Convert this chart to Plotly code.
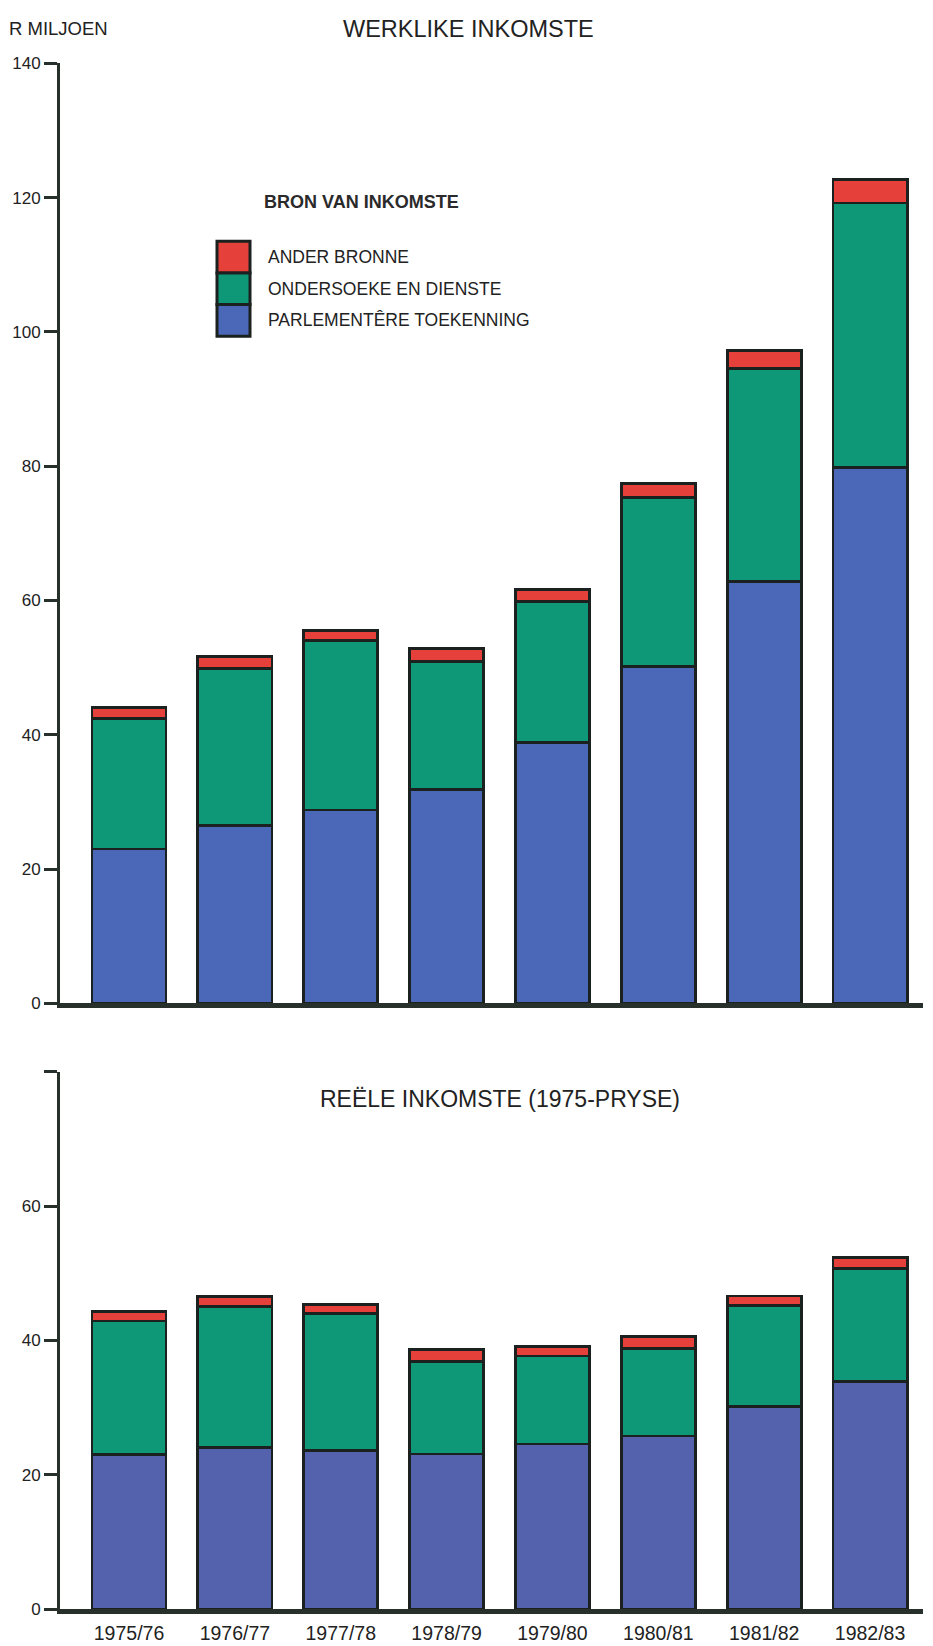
import plotly.graph_objects as go

# Financial years
years = ["1975/76", "1976/77", "1977/78", "1978/79", "1979/80", "1980/81", "1981/82", "1982/83"]

# Actual income (R million), by source
nominal_parlement = [23.0, 26.5, 28.8, 31.8, 38.9, 50.2, 62.8, 79.8]
nominal_ondersoeke = [19.4, 23.4, 25.2, 19.1, 20.9, 25.2, 31.7, 39.4]
nominal_ander = [1.7, 1.8, 1.5, 2.0, 1.9, 2.0, 2.7, 3.5]

# Real income at 1975 prices (R million), by source
real_parlement = [23.0, 24.1, 23.6, 23.1, 24.6, 25.8, 30.2, 33.9]
real_ondersoeke = [19.9, 21.0, 20.4, 13.8, 13.1, 13.0, 15.0, 16.8]
real_ander = [1.4, 1.4, 1.4, 1.7, 1.4, 1.8, 1.4, 1.6]

top_ticks = [0, 20, 40, 60, 80, 100, 120, 140]
bottom_ticks = [0, 20, 40, 60, 80]
bottom_tick_text = ["0", "20", "40", "60", ""]

series_names = ["PARLEMENTÊRE TOEKENNING", "ONDERSOEKE EN DIENSTE", "ANDER BRONNE"]
BLUE = "#4b68b8"
BLUE_REAL = "#5461ad"
GREEN = "#0e9878"
RED = "#e6403a"
INK = "#1a211e"
AXIS = "#28302c"
FONT = "Liberation Sans, Arial, sans-serif"

W, H = 933, 1646
PLOT_LEFT, PLOT_RIGHT = 60, 923

fig = go.Figure()

def add_stack(values_list, palette, xa, ya):
    for name, vals, col in zip(series_names, values_list, palette):
        fig.add_trace(go.Bar(
            x=years, y=vals, name=name, xaxis=xa, yaxis=ya,
            width=0.70, showlegend=False,
            marker=dict(color=col, line=dict(color=INK, width=2.8)),
        ))

add_stack([nominal_parlement, nominal_ondersoeke, nominal_ander], [BLUE, GREEN, RED], "x", "y")
add_stack([real_parlement, real_ondersoeke, real_ander], [BLUE_REAL, GREEN, RED], "x2", "y2")

def fx(px):
    return px / W

def fy(px):
    return 1 - px / H

x_range = [-0.652, 7.5]
xaxis_common = dict(
    type="category", range=x_range, domain=[fx(PLOT_LEFT), fx(PLOT_RIGHT)],
    showline=True, linecolor=AXIS, linewidth=4.5,
    showgrid=False, zeroline=False, ticks="", fixedrange=True,
)
yaxis_common = dict(
    showline=True, linecolor=AXIS, linewidth=3, showgrid=False, zeroline=False,
    ticks="outside", ticklen=13, tickwidth=2.5, tickcolor=AXIS,
    tickfont=dict(family=FONT, size=17, color="#222"),
)

fig.update_layout(
    width=W, height=H,
    margin=dict(l=0, r=0, t=0, b=0),
    paper_bgcolor="white", plot_bgcolor="white",
    barmode="stack",
    showlegend=False,
    xaxis=dict(anchor="y", showticklabels=False, **xaxis_common),
    yaxis=dict(domain=[fy(1006), fy(55)], anchor="x", range=[0, 140],
               tickvals=top_ticks, **yaxis_common),
    xaxis2=dict(anchor="y2", showticklabels=True, ticklabelstandoff=3,
                tickfont=dict(family=FONT, size=19.5, color="#222"), **xaxis_common),
    yaxis2=dict(domain=[fy(1619), fy(1075)], anchor="x2", range=[0, 80],
                tickvals=bottom_ticks, ticktext=bottom_tick_text, **yaxis_common),
)

annotations = [
    dict(text="R MILJOEN", x=fx(7), y=fy(20), xanchor="left", yanchor="middle",
         font=dict(family=FONT, size=18.5, color="#222")),
    dict(text="WERKLIKE INKOMSTE", x=fx(468), y=fy(20), xanchor="center", yanchor="middle",
         font=dict(family=FONT, size=23.5, color="#222")),
    dict(text="REËLE INKOMSTE (1975-PRYSE)", x=fx(500), y=fy(1103), xanchor="center",
         yanchor="middle", font=dict(family=FONT, size=23, color="#222")),
    dict(text="<b>BRON VAN INKOMSTE</b>", x=fx(262), y=fy(195), xanchor="left",
         yanchor="middle", font=dict(family=FONT, size=18, color="#2a2a2a")),
]

# Legend: stacked swatches with labels
legend_rows = [("ANDER BRONNE", RED), ("ONDERSOEKE EN DIENSTE", GREEN),
               ("PARLEMENTÊRE TOEKENNING", BLUE)]
shapes = []
sw_top, sw_h = 235, 32
for i, (label, col) in enumerate(legend_rows):
    y0 = sw_top + i * sw_h
    shapes.append(dict(type="rect", xref="paper", yref="paper",
                       x0=fx(217), x1=fx(250), y0=fy(y0 + sw_h), y1=fy(y0),
                       fillcolor=col, line=dict(color=INK, width=3)))
    annotations.append(dict(text=label, x=fx(266), y=fy(y0 + sw_h / 2), xanchor="left",
                            yanchor="middle", font=dict(family=FONT, size=17.5, color="#222")))

for a in annotations:
    a.update(xref="paper", yref="paper", showarrow=False)

fig.update_layout(annotations=annotations, shapes=shapes)

fig.write_html("out.html")
